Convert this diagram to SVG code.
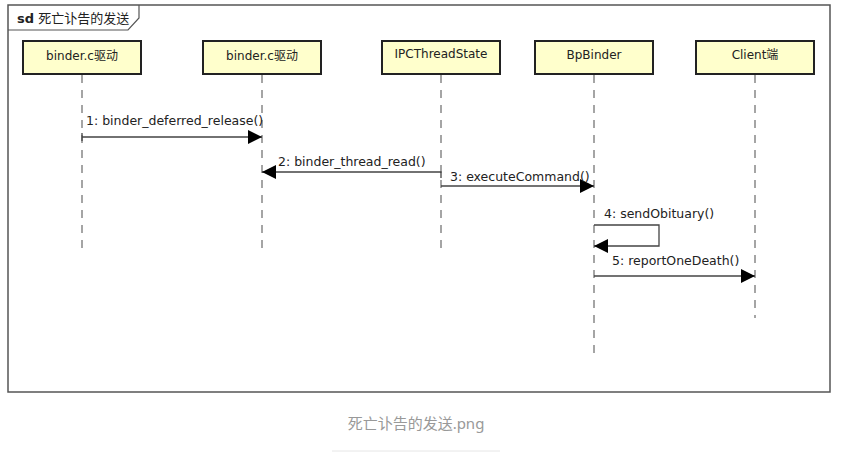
<svg xmlns="http://www.w3.org/2000/svg" width="841" height="473" viewBox="0 0 841 473">
<style>
.frame{fill:#fff;stroke:#555;stroke-width:1.5}
.box{fill:#ffffcc;stroke:#222;stroke-width:2}
.lbl{font-family:"DejaVu Sans","Noto Sans CJK SC",sans-serif;font-size:12px;fill:#222;text-anchor:middle}
.msg{font-family:"DejaVu Sans","Noto Sans CJK SC",sans-serif;font-size:12.5px;fill:#222}
.life{stroke:#888;stroke-width:1.5;stroke-dasharray:8,7;fill:none}
.line{stroke:#444;stroke-width:1.3;fill:none}
</style>
<defs>
<marker id="ah" viewBox="0 0 14 14" refX="14" refY="7" markerWidth="14" markerHeight="14" markerUnits="userSpaceOnUse" orient="auto">
<path d="M0,0 L14,7 L0,14 Z" fill="#000"/>
</marker>
</defs>
<rect width="841" height="473" fill="#fff"/>
<g id="frame">
<rect class="frame" x="8" y="5" width="822" height="387"/>
<path d="M8,30 L128,30 L139,18 L139,5" fill="none" stroke="#555" stroke-width="1.2"/>
<text x="17" y="23" font-family="DejaVu Sans,'Noto Sans CJK SC',sans-serif" font-size="13" fill="#222"><tspan font-weight="bold">sd</tspan> 死亡讣告的发送</text>
</g>
<g id="lifelines">
<line class="life" x1="82" y1="75" x2="82" y2="250"/>
<line class="life" x1="262" y1="75" x2="262" y2="250"/>
<line class="life" x1="441" y1="75" x2="441" y2="250"/>
<line class="life" x1="594" y1="75" x2="594" y2="355"/>
<line class="life" x1="755" y1="75" x2="755" y2="318"/>
</g>
<g id="n1"><rect class="box" x="23" y="41" width="118" height="33"/><text class="lbl" x="82" y="60">binder.c驱动</text></g>
<g id="n2"><rect class="box" x="203" y="41" width="118" height="33"/><text class="lbl" x="262" y="60">binder.c驱动</text></g>
<g id="n3"><rect class="box" x="382" y="41" width="118" height="33"/><text class="lbl" x="441" y="58">IPCThreadState</text></g>
<g id="n4"><rect class="box" x="535" y="41" width="118" height="33"/><text class="lbl" x="594" y="59">BpBinder</text></g>
<g id="n5"><rect class="box" x="696" y="41" width="118" height="33"/><text class="lbl" x="755" y="59">Client端</text></g>
<g id="connectors">
<path class="line" d="M82,133 L82,141 M82,137 L262,137" marker-end="url(#ah)"/>
<path class="line" d="M441,178 L441,172 L262,172" marker-end="url(#ah)"/>
<path class="line" d="M441,186 L594,186" marker-end="url(#ah)"/>
<path class="line" d="M594,225 L659,225 L659,246 L594,246" marker-end="url(#ah)"/>
<path class="line" d="M594,276 L755,276" marker-end="url(#ah)"/>
<text class="msg" x="86" y="125">1: binder_deferred_release()</text>
<text class="msg" x="278" y="166">2: binder_thread_read()</text>
<text class="msg" x="450" y="181">3: executeCommand()</text>
<text class="msg" x="604" y="218">4: sendObituary()</text>
<text class="msg" x="612" y="265">5: reportOneDeath()</text>
</g>
<text x="416" y="429" font-family="'Noto Sans','Noto Sans CJK SC',sans-serif" font-size="15" fill="#999" text-anchor="middle">死亡讣告的发送.png</text>
<line x1="332" y1="451" x2="500" y2="451" stroke="#e6e6e6" stroke-width="1"/>
</svg>
